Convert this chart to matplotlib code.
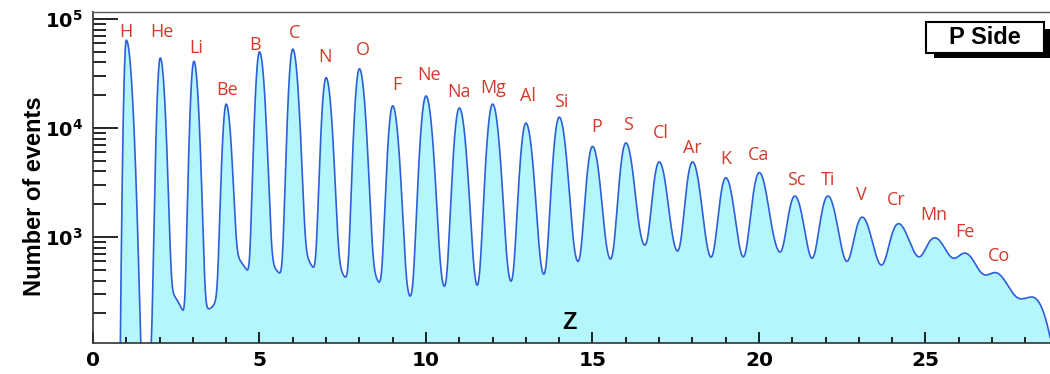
import numpy as np
import matplotlib
matplotlib.use('Agg')
import matplotlib.pyplot as plt
from matplotlib.patches import Rectangle
from matplotlib.ticker import FixedLocator, LogLocator, NullFormatter

plt.rcParams['mathtext.fontset'] = 'custom'
plt.rcParams['mathtext.bf'] = 'DejaVu Sans:bold'
plt.rcParams['mathtext.rm'] = 'DejaVu Sans'

# peaks (charge Z, counts at the top of each peak)
elements = ['H', 'He', 'Li', 'Be', 'B', 'C', 'N', 'O', 'F', 'Ne', 'Na', 'Mg', 'Al', 'Si',
            'P', 'S', 'Cl', 'Ar', 'K', 'Ca', 'Sc', 'Ti', 'V', 'Cr', 'Mn', 'Fe', 'Co', '']
peak_z = [1, 2.02, 3.03, 4, 5, 6, 7, 8, 9, 10, 11, 12, 13, 14, 15, 16, 17, 18, 19,
          20.0, 21.07, 22.06, 23.08, 24.13, 25.18, 26.17, 27.05, 28.0]
peak_height = [6.4e4, 4.4e4, 4.1e4, 1.66e4, 5.0e4, 5.3e4, 2.9e4, 3.5e4, 1.6e4, 1.97e4,
               1.53e4, 1.66e4, 1.11e4, 1.26e4, 6.8e3, 7.3e3, 4.9e3, 4.9e3, 3.5e3, 3.9e3,
               2.38e3, 2.38e3, 1.52e3, 1.3e3, 955, 713, 470, 275]
# peak widths (left / right flank)
sigma_left = [.05, .07, .078, .085, .09, .095, .1, .105, .11, .125, .125, .13, .13, .135,
              .14, .145, .15, .155, .16, .17, .18, .19, .2, .21, .23, .25, .27, .3]
sigma_right = [.12, .1, .1, .11, .115, .12, .125, .13, .135, .145, .15, .15, .155, .16,
               .165, .17, .175, .18, .185, .19, .2, .21, .22, .23, .25, .27, .25, .5]
# lowest point after each peak (He onwards); the last one is the right edge
valley_counts = [214, 220, 500, 470, 530, 430, 387, 288, 355, 363, 395, 458, 600,
                 630, 845, 745, 656, 660, 730, 640, 600, 555, 660, 640, 450, 272, 160]
edge_z = 28.65
# where the element names sit
label_z = [0.98, 2.06, 3.11, 4.04, 4.88, 6.05, 6.98, 8.09, 9.14, 10.08, 11.0, 12.03, 13.05,
           14.07, 15.12, 16.08, 17.04, 18.0, 18.99, 20.0, 21.13, 22.06, 23.08, 24.13,
           25.24, 26.2, 27.22]
label_counts = [7.6e4, 7.6e4, 5.4e4, 2.23e4, 5.8e4, 7.4e4, 4.5e4, 5.2e4, 2.5e4, 3.1e4,
                2.14e4, 2.33e4, 1.97e4, 1.73e4, 1.02e4, 1.07e4, 9.0e3, 6.6e3, 5.2e3,
                5.65e3, 3.33e3, 3.33e3, 2.43e3, 2.18e3, 1.59e3, 1.11e3, 670]

pz = np.array(peak_z)
ph = np.array(peak_height)
sl = np.array(sigma_left)
sr = np.array(sigma_right)
vc = np.array(valley_counts, dtype=float)


def background(x, amp):
    x = np.asarray(x, dtype=float)[:, None]
    return (amp * np.exp(-(x - (pz + 0.3)) ** 2 / (2 * 0.36 ** 2))).sum(axis=1)


def cores(x, amp):
    x = np.asarray(x, dtype=float)[:, None]
    s = np.where(x < pz, sl, sr)
    return (amp * np.exp(-(x - pz) ** 2 / (2 * s ** 2))).sum(axis=1)


z = np.linspace(0, 28.75, 4000)

# scale the background under the peaks so each valley bottoms out where it does in the picture
gaps = [(z > pz[i]) & (z < pz[i + 1]) for i in range(1, len(pz) - 1)]
bg_amp = np.concatenate([[0], vc * 0.8])
for _ in range(80):
    core_amp = np.maximum(ph - background(pz, bg_amp), 5)
    model = background(z, bg_amp) + cores(z, core_amp)
    lows = [model[g].min() for g in gaps] + [np.interp(edge_z, z, model)]
    bg_amp[1:] *= (vc / np.array(lows)) ** 0.4
core_amp = np.maximum(ph - background(pz, bg_amp), 5)

counts = np.maximum(background(z, bg_amp) + cores(z, core_amp), 1)

fig = plt.figure(figsize=(10.5, 3.74), dpi=100)
ax = fig.add_axes([93 / 1050, 31 / 374, 957 / 1050, 331 / 374])

ax.fill_between(z, counts, 1, color='#b4f6fb', lw=0)
ax.plot(z, counts, color='#2f5fd8', lw=1.2)

ax.set_yscale('log')
ax.set_xlim(0, 28.74)
ax.set_ylim(107, 1.16e5)

ax.xaxis.set_major_locator(FixedLocator([0, 5, 10, 15, 20, 25]))
ax.xaxis.set_minor_locator(FixedLocator(range(0, 29)))
ax.set_xticklabels(['0', '5', '10', '15', '20', '25'], fontsize=14.5, fontweight='bold',
                   family='DejaVu Sans')
ax.yaxis.set_major_locator(FixedLocator([1e3, 1e4, 1e5]))
ax.set_yticklabels([r'$\mathbf{10^{3}}$', r'$\mathbf{10^{4}}$', r'$\mathbf{10^{5}}$'], fontsize=14)
ax.yaxis.set_minor_locator(LogLocator(base=10, subs=np.arange(2, 10)))
ax.yaxis.set_minor_formatter(NullFormatter())

ax.tick_params(axis='x', which='major', direction='in', length=8, width=1.2, pad=6)
ax.tick_params(axis='x', which='minor', direction='in', length=4, width=1.2)
ax.tick_params(axis='y', which='major', direction='in', length=18, width=1.2, pad=7)
ax.tick_params(axis='y', which='minor', direction='in', length=9.5, width=1.2)

ax.spines['right'].set_visible(False)
ax.spines['top'].set_color('#555555')
ax.spines['top'].set_linewidth(1.0)
for sp in ['left', 'bottom']:
    ax.spines[sp].set_linewidth(1.2)
    ax.spines[sp].set_color('#333333')

for name, lz, lc in zip(elements, label_z, label_counts):
    ax.text(lz, lc, name, color='#d23b2a', fontsize=13, family='Open Sans',
            ha='center', va='center')

ax.text(14.3, 165, 'Z', fontsize=17, fontweight='bold', family='Liberation Sans',
        ha='center', va='center')

fig.text(35 / 1050, 1 - 196 / 374, 'Number of events', rotation=90, fontsize=17,
         fontweight='bold', family='Liberation Sans', ha='center', va='center')


# "P Side" box with drop shadow
def px_rect(x0, y0, x1, y1, **kw):
    return Rectangle((x0 / 1050, 1 - y1 / 374), (x1 - x0) / 1050, (y1 - y0) / 374,
                     transform=fig.transFigure, **kw)


fig.patches.append(px_rect(934, 29, 1050, 58, facecolor='black', edgecolor='none'))
fig.patches.append(px_rect(926, 22, 1044, 53, facecolor='white', edgecolor='black', lw=1.5))
fig.text(985 / 1050, 1 - 37 / 374, 'P Side', fontsize=17, fontweight='bold',
         family='Liberation Sans', ha='center', va='center')

fig.savefig('out.png', dpi=100)
